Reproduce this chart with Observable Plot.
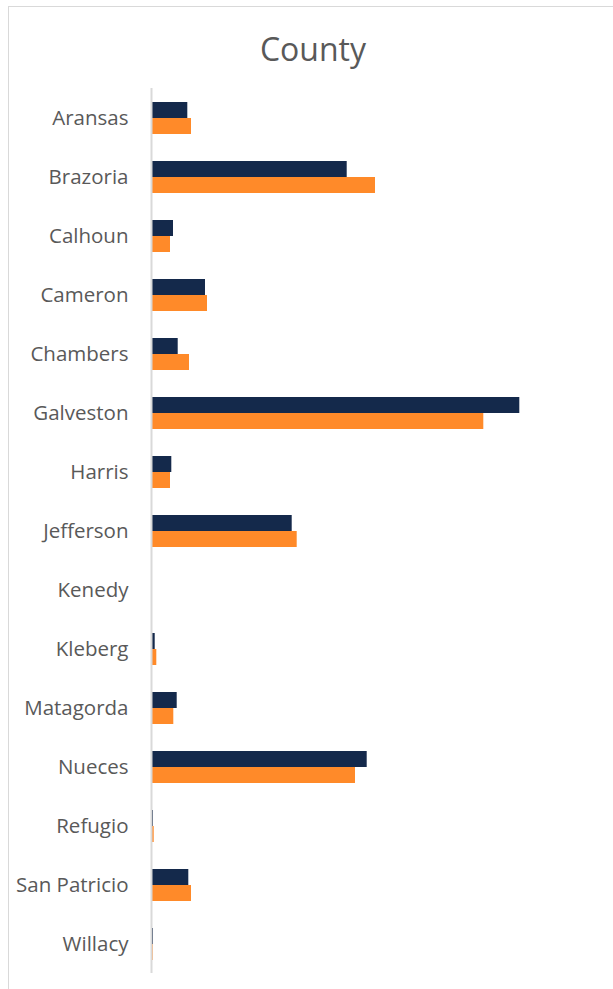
<!DOCTYPE html>
<html>
<head>
<meta charset="utf-8">
<script src="https://cdn.jsdelivr.net/npm/d3@7"></script>
<script src="https://cdn.jsdelivr.net/npm/@observablehq/plot@0.6"></script>
<style>
  html, body { margin: 0; padding: 0; background: #fff; overflow: hidden; width: 613px; height: 989px; }
  #frame { position: absolute; left: 8px; top: 6px; width: 700px; height: 1100px; border: 1px solid #d9d9d9; box-sizing: border-box; }
  #title { position: absolute; left: 0; top: 28px; width: 626px; text-align: center; font-family: "Open Sans", sans-serif; font-size: 32px; color: #595959; line-height: 42px; }
  #chart { position: absolute; left: 0; top: 80px; }
</style>
</head>
<body>
<div id="frame"></div>
<div id="title">County</div>
<div id="chart"></div>
<script>
const counties = ["Aransas","Brazoria","Calhoun","Cameron","Chambers","Galveston","Harris","Jefferson","Kenedy","Kleberg","Matagorda","Nueces","Refugio","San Patricio","Willacy"];
const seriesNames = ["Series 1", "Series 2"];
const series1 = [36.3, 195.7, 22, 54, 26.7, 368.3, 20.3, 140.7, 0, 3.7, 25.7, 215.7, 2, 37.3, 2];
const series2 = [40, 224, 19, 56, 38, 332.3, 19, 145.7, 0, 5.3, 22.3, 204, 2.7, 40, 1.7];
const colors = ["#14294b", "#ff8a29"];

const data = counties.flatMap((c, i) => [
  {county: c, series: seriesNames[0], value: series1[i]},
  {county: c, series: seriesNames[1], value: series2[i]}
]);

const chart = Plot.plot({
  width: 613,
  height: 909,
  marginLeft: 151,
  marginRight: 0,
  marginTop: 8,
  marginBottom: 16,
  style: {fontFamily: "Open Sans", fontSize: "20.5px", color: "#595959", background: "transparent"},
  x: {domain: [0, 462], axis: null},
  fy: {domain: counties, padding: 0, label: null, axis: "left", tickSize: 0, tickPadding: 23},
  y: {domain: seriesNames, paddingInner: 0, paddingOuter: 0.84, axis: null},
  color: {domain: seriesNames, range: colors},
  marks: [
    Plot.barX(data, {fy: "county", y: "series", x: "value", fill: "series"}),
    Plot.ruleX([0], {stroke: "#d9d9d9", strokeWidth: 2})
  ]
});
document.getElementById("chart").appendChild(chart);
</script>
</body>
</html>
